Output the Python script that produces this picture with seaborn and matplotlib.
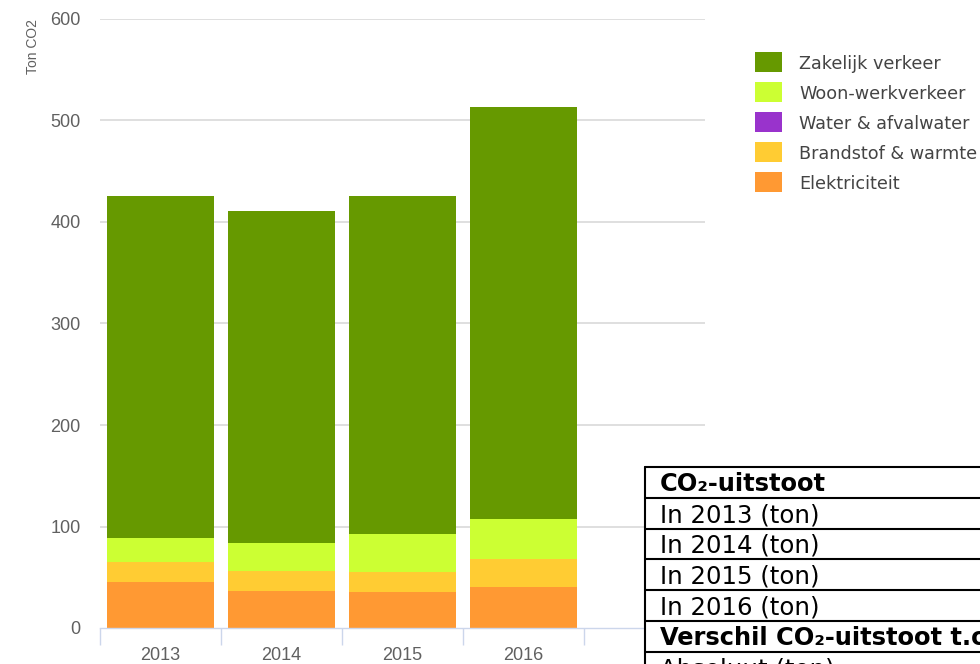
import matplotlib
matplotlib.use("Agg")
import matplotlib.pyplot as plt
import seaborn as sns
import pandas as pd
import numpy as np
from matplotlib.patches import Rectangle
from matplotlib.lines import Line2D

# ---- data ----
years = ["2013", "2014", "2015", "2016"]
series_names = ["Elektriciteit", "Brandstof & warmte", "Water & afvalwater",
                "Woon-werkverkeer", "Zakelijk verkeer"]
elektriciteit = [45, 36.5, 35, 40]
brandstof = [20, 19.5, 20, 27.7]
water = [0.4, 0.4, 0.4, 0.4]
woon_werk = [23.6, 27.0, 36.9, 39.3]
zakelijk = [337, 327, 333.7, 405.6]
colors = {"Elektriciteit": "#ff9933", "Brandstof & warmte": "#ffcc33",
          "Water & afvalwater": "#9933cc", "Woon-werkverkeer": "#ccff33",
          "Zakelijk verkeer": "#669900"}
legend_order = ["Zakelijk verkeer", "Woon-werkverkeer", "Water & afvalwater",
                "Brandstof & warmte", "Elektriciteit"]
yticks = [0, 100, 200, 300, 400, 500, 600]
table_rows = ["CO₂-uitstoot", "In 2013 (ton)", "In 2014 (ton)", "In 2015 (ton)",
              "In 2016 (ton)", "Verschil CO₂-uitstoot t.o.v. 2013", "Absoluut (ton)"]
table_bold = [True, False, False, False, False, True, False]

values = [elektriciteit, brandstof, water, woon_werk, zakelijk]
df = pd.DataFrame({"year": years})
cum = np.zeros(len(years))
for name, vals in zip(series_names, values):
    cum = cum + np.array(vals)
    df[name] = cum.copy()

sns.set_theme(style="white")
plt.rcParams["font.family"] = ["Liberation Sans", "DejaVu Sans"]

W, H = 980, 664
fig = plt.figure(figsize=(W / 100, H / 100), dpi=100)
ax = fig.add_axes([100 / W, 1 - 628 / H, 605 / W, 609 / H])

# stacked bars: draw cumulative totals from top layer down
for name in reversed(series_names):
    sns.barplot(data=df, x="year", y=name, order=years, color=colors[name],
                width=0.89, saturation=1, ax=ax, linewidth=0, edgecolor="none")

ax.set_xlim(-0.5, 4.5)
ax.set_ylim(0, 600)
ax.set_yticks(yticks)
ax.set_yticklabels([str(v) for v in yticks], fontsize=13, color="#606060")
ax.set_xlabel("")
ax.set_ylabel("")
for v in yticks[1:]:
    ax.axhline(v, color="#d9d9d9", lw=1.2, zorder=0)
ax.tick_params(axis="y", length=0, pad=14)
ax.set_xticks(range(len(years)))
ax.set_xticklabels(years, fontsize=13, color="#606060")
ax.tick_params(axis="x", which="major", length=0, pad=14)
ax.set_xticks(np.arange(-0.5, 5.0, 1.0), minor=True)
ax.tick_params(axis="x", which="minor", bottom=True, direction="out",
               length=12, color="#ccd6eb", width=1)
for s in ["top", "right", "left"]:
    ax.spines[s].set_visible(False)
ax.spines["bottom"].set_color("#ccd6eb")
ax.spines["bottom"].set_linewidth(1)

fig.text(33 / W, 1 - 46 / H, "Ton CO2", rotation=90, ha="center", va="center",
         fontsize=10, color="#606060")

# legend (drawn as figure artists)
for i, name in enumerate(legend_order):
    yc = 62 + 30 * i
    fig.patches.append(Rectangle((755 / W, 1 - (yc + 10) / H), 27 / W, 20 / H,
                                 transform=fig.transFigure,
                                 facecolor=colors[name], edgecolor="none"))
    fig.text(799 / W, 1 - yc / H, name, ha="left", va="center_baseline",
             fontsize=12.7, color="#444444", family="DejaVu Sans")

# table overlay
top = 467
row_h = 30.8
left = 645
n_rows = len(table_rows)
fig.patches.append(Rectangle((left / W, 0), 1 - left / W, 1 - top / H,
                             transform=fig.transFigure, facecolor="white",
                             edgecolor="none", zorder=5))
for i in range(n_rows + 1):
    y = top + i * row_h
    fig.add_artist(Line2D([left / W, 1], [1 - y / H, 1 - y / H], color="black",
                          lw=1.5, zorder=6))
fig.add_artist(Line2D([left / W, left / W], [0, 1 - top / H], color="black",
                      lw=1.5, zorder=6))
for i, (t, b) in enumerate(zip(table_rows, table_bold)):
    y = top + i * row_h + 24.3
    fig.text((left + 15) / W, 1 - y / H, t, ha="left", va="baseline",
             fontsize=17.6 if not b else 17.4,
             fontweight="bold" if b else "normal",
             color="black", family="DejaVu Sans", zorder=7)

fig.savefig("out.png", dpi=100)
